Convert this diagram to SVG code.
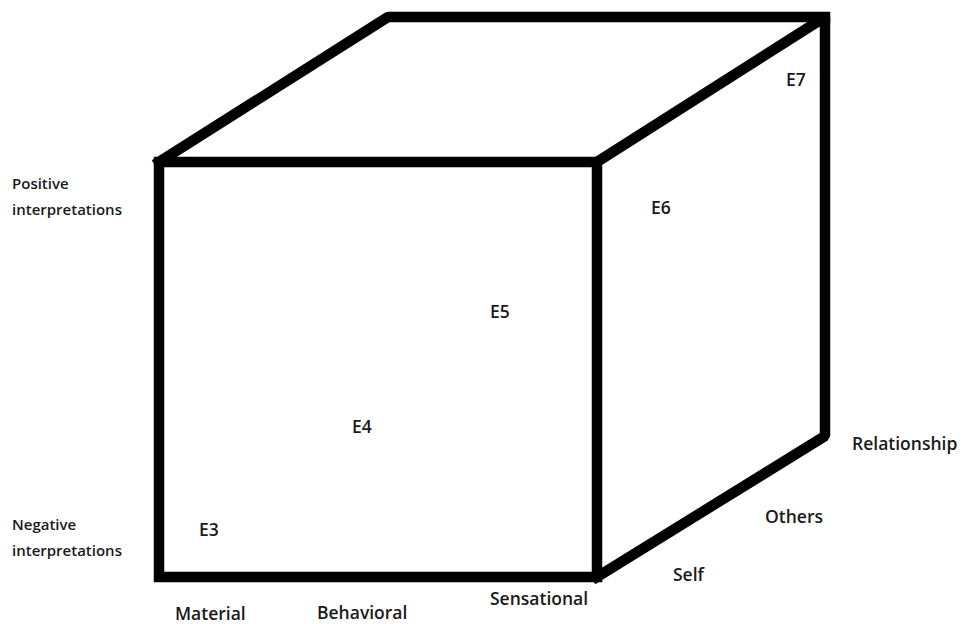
<svg xmlns="http://www.w3.org/2000/svg" width="962" height="624" viewBox="0 0 962 624">
<style>
.edge{stroke:#000;stroke-width:10.5;fill:none;stroke-linejoin:miter;stroke-linecap:square}
.back{stroke-linejoin:bevel}
.lbl{font-family:"Open Sans","Liberation Sans",sans-serif;fill:#1a1a1a;font-weight:600}
.s{font-size:15px}
.m{font-size:17.5px}
.e{font-size:17.5px}
</style>
<rect width="962" height="624" fill="#fff"/>
<g id="cube">
<path class="edge" d="M159,162 L597,162 L597,577 L159,577 Z"/>
<path class="edge back" d="M159,162 L388,17 L825,17"/>
<path class="edge back" d="M597,162 L825,17 L825,436 L597,577"/>
</g>
<g id="axis-interpretation">
<text class="lbl s" x="12" y="189">Positive</text>
<text class="lbl s" x="12" y="215">interpretations</text>
<text class="lbl s" x="12" y="530">Negative</text>
<text class="lbl s" x="12" y="556">interpretations</text>
</g>
<g id="axis-domain">
<text class="lbl m" x="175" y="620">Material</text>
<text class="lbl m" x="317" y="619">Behavioral</text>
<text class="lbl m" x="490" y="605">Sensational</text>
</g>
<g id="axis-target">
<text class="lbl m" x="673" y="581">Self</text>
<text class="lbl m" x="765" y="523">Others</text>
<text class="lbl m" x="852" y="450">Relationship</text>
</g>
<g id="points">
<text class="lbl e" x="199" y="536">E3</text>
<text class="lbl e" x="352" y="433">E4</text>
<text class="lbl e" x="490" y="318">E5</text>
<text class="lbl e" x="651" y="214">E6</text>
<text class="lbl e" x="786" y="86">E7</text>
</g>
</svg>
